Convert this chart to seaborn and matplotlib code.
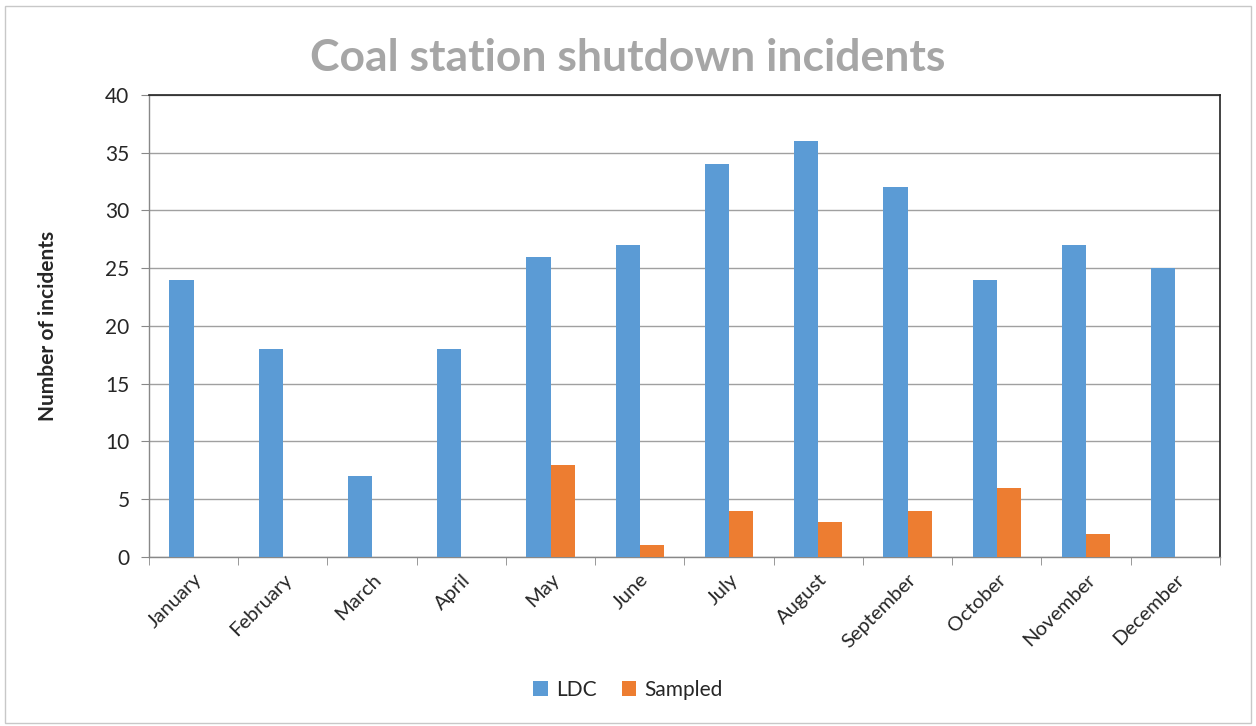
import matplotlib.pyplot as plt
import matplotlib.patches as mpatches
import seaborn as sns
import numpy as np
import pandas as pd

months = ["January", "February", "March", "April", "May", "June",
          "July", "August", "September", "October", "November", "December"]
ldc = [24, 18, 7, 18, 26, 27, 34, 36, 32, 24, 27, 25]
sampled = [0, 0, 0, 0, 8, 1, 4, 3, 4, 6, 2, 0]

df = pd.DataFrame({
    "month": months * 2,
    "count": ldc + sampled,
    "series": ["LDC"] * 12 + ["Sampled"] * 12,
})

sns.set_style("white")
plt.rcParams["font.family"] = ["Lato", "DejaVu Sans"]

fig = plt.figure(figsize=(12.56, 7.26), dpi=100)
ax = fig.add_axes([0.1186, 0.2328, 0.8527, 0.6364])

sns.barplot(
    data=df, x="month", y="count", hue="series",
    palette={"LDC": "#5B9BD5", "Sampled": "#ED7D31"},
    width=0.54, ax=ax, errorbar=None, saturation=1, zorder=3, linewidth=0,
)

ax.set_ylim(0, 40)
ax.set_xlim(-0.5, 11.5)
ax.set_yticks(np.arange(0, 41, 5))
ax.yaxis.grid(True, color="#A0A0A0", linewidth=1, zorder=0)
ax.set_axisbelow(True)

ax.set_xticks(np.arange(12))
ax.set_xticklabels(months, rotation=45, ha="right", rotation_mode="anchor", fontsize=14.5)
ax.tick_params(axis="x", length=0, pad=10)
ax.set_xticks(np.arange(-0.5, 12, 1), minor=True)
ax.tick_params(axis="x", which="minor", length=6, color="#888888", direction="out", bottom=True)
ax.tick_params(axis="y", length=6, color="#888888", direction="out", left=True, labelsize=15, pad=8)

for s in ["top", "right"]:
    ax.spines[s].set_color("#222222")
    ax.spines[s].set_linewidth(1.2)
for s in ["left", "bottom"]:
    ax.spines[s].set_color("#888888")
    ax.spines[s].set_linewidth(1)

ax.set_xlabel("")
ax.set_ylabel("Number of incidents", fontsize=15, fontweight="bold", labelpad=34)

fig.text(0.5, 0.92, "Coal station shutdown incidents", ha="center", va="center",
         fontsize=32, fontweight="bold", color="#A6A6A6")

handles, labels = ax.get_legend_handles_labels()
ax.legend_.remove()
fig.legend(handles, labels, loc="center", bbox_to_anchor=(0.5, 0.05), ncol=2,
           frameon=False, fontsize=15, handlelength=0.7, handleheight=0.7,
           columnspacing=1.2, handletextpad=0.4)

fig.patches.append(mpatches.Rectangle((0.004, 0.004), 0.992, 0.988, transform=fig.transFigure,
                                      fill=False, edgecolor="#C8C8C8", linewidth=1))

fig.savefig("out.png", dpi=100)
